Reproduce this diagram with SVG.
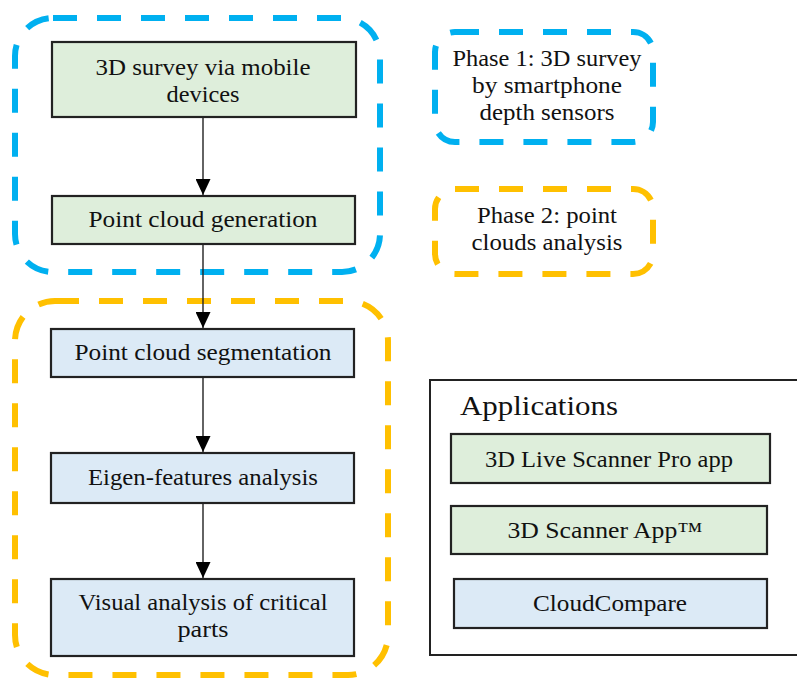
<svg xmlns="http://www.w3.org/2000/svg" width="797" height="679" viewBox="0 0 797 679">
<style>
text{font-family:"Liberation Serif","Times New Roman",serif;font-size:23px;fill:#111;text-anchor:middle}
.green{fill:#DEEEDB;stroke:#222;stroke-width:2.2}
.blue{fill:#DCEAF6;stroke:#222;stroke-width:2.2}
.dash{fill:none;stroke-width:6;stroke-dasharray:24 20}
.cyan{stroke:#00B0F0}
.amber{stroke:#FFC000}
.edge{stroke:#222;stroke-width:1.4;fill:none;marker-end:url(#ah)}
</style>
<defs>
<marker id="ah" markerWidth="16" markerHeight="15" refX="16" refY="7.5" orient="auto" markerUnits="userSpaceOnUse" viewBox="0 0 16 15">
<path d="M0,0 L16,7.5 L0,15 Z" fill="#000"/>
</marker>
</defs>
<rect width="797" height="679" fill="#fff"/>
<g id="phase-groups">
<rect id="phase1-area" class="dash cyan" x="15" y="18" width="365" height="254" rx="38"/>
<rect id="phase2-area" class="dash amber" x="15" y="301" width="373" height="374" rx="40"/>
</g>
<g id="connectors">
<line class="edge" x1="203" y1="117" x2="203" y2="195"/>
<line class="edge" x1="203" y1="244" x2="203" y2="328"/>
<line class="edge" x1="203" y1="377" x2="203" y2="452"/>
<line class="edge" x1="203" y1="503" x2="203" y2="578"/>
</g>
<g id="n1">
<rect class="green" x="52" y="42" width="304" height="75"/>
<text x="203" y="75" textLength="215" lengthAdjust="spacingAndGlyphs">3D survey via mobile</text>
<text x="203" y="102" textLength="73" lengthAdjust="spacingAndGlyphs">devices</text>
</g>
<g id="n2">
<rect class="green" x="52" y="196" width="303" height="48"/>
<text x="203" y="227" textLength="229" lengthAdjust="spacingAndGlyphs">Point cloud generation</text>
</g>
<g id="n3">
<rect class="blue" x="51" y="329" width="303" height="48"/>
<text x="203" y="360" textLength="257" lengthAdjust="spacingAndGlyphs">Point cloud segmentation</text>
</g>
<g id="n4">
<rect class="blue" x="51" y="453" width="303" height="50"/>
<text x="203" y="485" textLength="230" lengthAdjust="spacingAndGlyphs">Eigen-features analysis</text>
</g>
<g id="n5">
<rect class="blue" x="51" y="579" width="303" height="77"/>
<text x="203" y="610" textLength="249" lengthAdjust="spacingAndGlyphs">Visual analysis of critical</text>
<text x="203" y="637" textLength="51" lengthAdjust="spacingAndGlyphs">parts</text>
</g>
<g id="legend-phase1">
<rect class="dash cyan" x="435" y="32" width="218" height="110" rx="20"/>
<text x="547" y="66" textLength="189" lengthAdjust="spacingAndGlyphs">Phase 1: 3D survey</text>
<text x="547" y="93" textLength="150" lengthAdjust="spacingAndGlyphs">by smartphone</text>
<text x="547" y="120" textLength="135" lengthAdjust="spacingAndGlyphs">depth sensors</text>
</g>
<g id="legend-phase2">
<rect class="dash amber" x="435" y="189" width="218" height="85" rx="20"/>
<text x="547" y="223" textLength="140" lengthAdjust="spacingAndGlyphs">Phase 2: point</text>
<text x="547" y="250" textLength="151" lengthAdjust="spacingAndGlyphs">clouds analysis</text>
</g>
<g id="applications">
<rect x="430" y="380" width="400" height="275" fill="#fff" stroke="#222" stroke-width="2"/>
<text x="460" y="415" style="text-anchor:start;font-size:28px" textLength="158" lengthAdjust="spacingAndGlyphs">Applications</text>
</g>
<g id="app1">
<rect class="green" x="451" y="434" width="319" height="49"/>
<text x="609" y="467" textLength="248" lengthAdjust="spacingAndGlyphs">3D Live Scanner Pro app</text>
</g>
<g id="app2">
<rect class="green" x="451" y="506" width="316" height="48"/>
<text x="605" y="538" textLength="195" lengthAdjust="spacingAndGlyphs">3D Scanner App™</text>
</g>
<g id="app3">
<rect class="blue" x="454" y="579" width="313" height="49"/>
<text x="610" y="611" textLength="154" lengthAdjust="spacingAndGlyphs">CloudCompare</text>
</g>
</svg>
